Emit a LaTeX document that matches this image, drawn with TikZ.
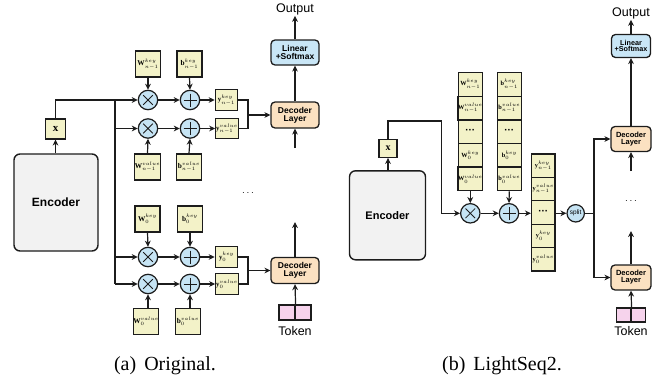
\documentclass[tikz,border=0pt]{standalone}
\usepackage{fontspec}
\setmainfont{Liberation Serif}
\setsansfont{Liberation Sans}
\usetikzlibrary{arrows.meta,calc}

\definecolor{ink}{HTML}{1C1C1C}
\definecolor{boxyel}{HTML}{F3F2C8}
\definecolor{opblue}{HTML}{C6E4F4}
\definecolor{decpeach}{HTML}{FBE1C1}
\definecolor{linblue}{HTML}{C9E6F6}
\definecolor{encgray}{HTML}{F2F2F2}
\definecolor{tokpink}{HTML}{F6D3EC}

\newcommand{\setfs}[1]{\fontsize{#1}{#1}\selectfont}
\newcommand{\stackdots}{{\sffamily\bfseries\setfs{10}\textperiodcentered\textperiodcentered\textperiodcentered}}

\tikzset{
  conn/.style={line width=1.2pt, draw=ink},
  arr/.style={conn, -{Stealth[length=6pt,width=5.8pt]}},
  vbox/.style={draw=ink, line width=1.3pt, fill=boxyel, inner sep=0pt},
  wbox/.style={vbox, minimum width=25pt, minimum height=26pt, font=\setfs{7.3}},
  ybox/.style={vbox, minimum width=22.5pt, minimum height=20.5pt, font=\setfs{6.8}},
  cell/.style={vbox, minimum width=24pt, minimum height=23.6pt, font=\setfs{6.3}},
  enc/.style={draw=ink, line width=1.4pt, fill=encgray, rounded corners=6pt,
    font=\sffamily\bfseries, inner sep=0pt},
  dec/.style={draw=ink, line width=1.3pt, fill=decpeach, rounded corners=4pt,
    align=center, inner sep=0pt, font=\sffamily\bfseries},
  lin/.style={dec, fill=linblue},
  op/.style={circle, draw=ink, line width=1.2pt, fill=opblue,
    minimum size=19.4pt, inner sep=0pt},
  mul/.style={op, path picture={
    \draw[ink, line width=0.8pt]
      ([shift={(-4.8,-4.8)}]path picture bounding box.center) --
      ([shift={(4.8,4.8)}]path picture bounding box.center)
      ([shift={(-4.8,4.8)}]path picture bounding box.center) --
      ([shift={(4.8,-4.8)}]path picture bounding box.center);}},
  add/.style={op, path picture={
    \draw[ink, line width=0.8pt]
      ([shift={(-6.5,0)}]path picture bounding box.center) --
      ([shift={(6.5,0)}]path picture bounding box.center)
      ([shift={(0,-6.5)}]path picture bounding box.center) --
      ([shift={(0,6.5)}]path picture bounding box.center);}},
  tok/.style={draw=ink, line width=1.2pt, fill=tokpink, minimum width=16pt,
    minimum height=15pt, inner sep=0pt},
  lbl/.style={font=\sffamily\setfs{12.5}, inner sep=1pt},
  dotsl/.style={font=\setfs{10}, inner sep=0pt},
  capt/.style={font=\setfs{20}, inner sep=0pt, anchor=base}
}

\begin{document}
\begin{tikzpicture}[x=1pt,y=-1pt]
\useasboundingbox (0,0) rectangle (672,383);

% ---------------- (a) per-layer projections ----------------
\node[enc, minimum width=84pt, minimum height=97pt, font=\sffamily\bfseries\setfs{12}] (encA) at (56,202.5) {Encoder};
\node[vbox, minimum size=20pt, font=\setfs{11}] (xA) at (55.5,129) {$\mathbf{x}$};
\draw[arr] (xA.south |- encA.north) -- (xA.south);

% layer n-1
\node[wbox] (wkA1) at (148,64)    {$\mathbf{W}^{key}_{n-1}$};
\node[wbox] (bkA1) at (189.5,64)  {$\mathbf{b}^{key}_{n-1}$};
\node[mul]  (mA1)  at (148,100) {};
\node[mul]  (mA2)  at (148,128.5) {};
\node[add]  (aA1)  at (190,100) {};
\node[add]  (aA2)  at (190,128.5) {};
\node[ybox] (yA1)  at (226.5,100)   {$\mathbf{y}^{key}_{n-1}$};
\node[ybox] (yA2)  at (227,128.5)   {$\mathbf{y}^{value}_{n-1}$};
\node[wbox] (wvA1) at (147.5,167) {$\mathbf{W}^{value}_{n-1}$};
\node[wbox] (bvA1) at (189,167)   {$\mathbf{b}^{value}_{n-1}$};

% layer 0
\node[wbox] (wkA0) at (147.5,219) {$\mathbf{W}^{key}_{0}$};
\node[wbox] (bkA0) at (190,219)   {$\mathbf{b}^{key}_{0}$};
\node[mul]  (mA3)  at (148,257) {};
\node[mul]  (mA4)  at (148,284) {};
\node[add]  (aA3)  at (190,257) {};
\node[add]  (aA4)  at (190,284) {};
\node[ybox] (yA3)  at (226.5,257) {$\mathbf{y}^{key}_{0}$};
\node[ybox] (yA4)  at (227,284)   {$\mathbf{y}^{value}_{0}$};
\node[wbox] (wvA0) at (146,321.5) {$\mathbf{W}^{value}_{0}$};
\node[wbox] (bvA0) at (188,321.5) {$\mathbf{b}^{value}_{0}$};

% decoder stack
\node[lin, minimum width=48pt, minimum height=25pt, font=\sffamily\bfseries\setfs{8.5}] (linA) at (295,52.5) {Linear\\[-1pt]+Softmax};
\node[lbl] (outA) at (295,9) {Output};
\node[dec, minimum width=48pt, minimum height=26pt, font=\sffamily\bfseries\setfs{8.5}] (decA1) at (295,115) {Decoder\\[-0.5pt]Layer};
\node[dec, minimum width=48pt, minimum height=26pt, font=\sffamily\bfseries\setfs{8.5}] (decA0) at (295,270.5) {Decoder\\[-0.5pt]Layer};
\node[dotsl] (dtA) at (248,193) {$\cdots$};
\node[tok] (tokA1) at (287,312.5) {};
\node[tok] (tokA2) at (303,312.5) {};
\node[lbl] (tokAl) at (295,331.5) {Token};
\coordinate (inA1) at (295,148);
\coordinate (upA0) at (295,222);

% encoder output bus
\coordinate (busA) at (115,100);
\draw[arr] (xA.north) |- (mA1.west);
\draw[conn] (busA) -- (busA |- mA4);
\foreach \m in {mA2,mA3,mA4}
  \draw[arr] (busA |- \m) -- (\m.west);

% products and sums
\foreach \m/\a/\y in {mA1/aA1/yA1, mA2/aA2/yA2, mA3/aA3/yA3, mA4/aA4/yA4} {
  \draw[arr] (\m.east) -- (\a.west);
  \draw[arr] (\a.east) -- (\y.west);
}
\draw[arr] (wkA1.south) -- (mA1.north);
\draw[arr] (bkA1.south) -- (aA1.north);
\draw[arr] (wvA1.north) -- (mA2.south);
\draw[arr] (bvA1.north) -- (aA2.south);
\draw[arr] (wkA0.south) -- (mA3.north);
\draw[arr] (bkA0.south) -- (aA3.north);
\draw[arr] (wvA0.north -| mA4) -- (mA4.south);
\draw[arr] (bvA0.north -| aA4) -- (aA4.south);

% key/value pairs into the decoder layers
\coordinate (jA1) at (248,115);
\coordinate (jA0) at (248,270.5);
\draw[conn] (yA1.east) -| (jA1) |- (yA2.east);
\draw[arr] (jA1) -- (decA1.west);
\draw[conn] (yA3.east) -| (jA0) |- (yA4.east);
\draw[arr] (jA0) -- (decA0.west);

\draw[arr] (inA1) -- (decA1.south);
\draw[arr] (decA1.north) -- (linA.south);
\draw[arr] (linA.north) -- (outA.south);
\draw[arr] (decA0.north) -- (upA0);
\draw[arr] (tokA1.north east) -- (decA0.south);

\node[capt] (capA) at (165,370) {(a)\hspace{0.4em}Original.};

% ---------------- (b) fused projections ----------------
\node[enc, minimum width=76pt, minimum height=89pt, font=\sffamily\bfseries\setfs{11}] (encB) at (387.5,215.3) {Encoder};
\node[vbox, minimum size=18pt, font=\setfs{10}] (xB) at (388,148.3) {$\mathbf{x}$};
\draw[arr] (xB.south |- encB.north) -- (xB.south);

% stacked weights and biases
\node[cell] (wB1) at (470.3,84.5)  {$\mathbf{W}^{key}_{n-1}$};
\node[cell] (wB2) at (470.3,108.1) {$\mathbf{W}^{value}_{n-1}$};
\node[cell] (wB3) at (470.3,131.7) {\stackdots};
\node[cell] (wB4) at (470.3,155.3) {$\mathbf{W}^{key}_{0}$};
\node[cell] (wB5) at (470.3,178.9) {$\mathbf{W}^{value}_{0}$};
\node[cell] (bB1) at (509.3,84.5)  {$\mathbf{b}^{key}_{n-1}$};
\node[cell] (bB2) at (509.3,108.1) {$\mathbf{b}^{value}_{n-1}$};
\node[cell] (bB3) at (509.3,131.7) {\stackdots};
\node[cell] (bB4) at (509.3,155.3) {$\mathbf{b}^{key}_{0}$};
\node[cell] (bB5) at (509.3,178.9) {$\mathbf{b}^{value}_{0}$};

\node[mul] (mB) at (470.3,213.3) {};
\node[add] (aB) at (509,213.3) {};

% stacked outputs
\node[cell, minimum width=23.5pt, minimum height=23.4pt] (yB1) at (543.3,165.7) {$\mathbf{y}^{key}_{n-1}$};
\node[cell, minimum width=23.5pt, minimum height=23.4pt] (yB2) at (543.3,189.1) {$\mathbf{y}^{value}_{n-1}$};
\node[cell, minimum width=23.5pt, minimum height=23.4pt] (yB3) at (543.3,212.5) {\stackdots};
\node[cell, minimum width=23.5pt, minimum height=23.4pt] (yB4) at (543.3,235.9) {$\mathbf{y}^{key}_{0}$};
\node[cell, minimum width=23.5pt, minimum height=23.4pt] (yB5) at (543.3,259.3) {$\mathbf{y}^{value}_{0}$};

\node[op, minimum size=17.4pt, font=\sffamily\setfs{6.5}] (splB) at (575.7,213.3) {split};

% decoder stack
\node[lin, minimum width=39pt, minimum height=23pt, font=\sffamily\bfseries\setfs{7.2}] (linB) at (631,46) {Linear\\[-1pt]+Softmax};
\node[lbl] (outB) at (631,13) {Output};
\node[dec, minimum width=40pt, minimum height=25pt, font=\sffamily\bfseries\setfs{7.5}] (decB1) at (631,139) {Decoder\\[-0.5pt]Layer};
\node[dec, minimum width=40pt, minimum height=25pt, font=\sffamily\bfseries\setfs{7.5}] (decB0) at (631,277.5) {Decoder\\[-0.5pt]Layer};
\node[dotsl] (dtB) at (631,201) {$\cdots$};
\node[tok, minimum width=14.5pt, minimum height=14pt] (tokB1) at (623.75,315) {};
\node[tok, minimum width=14.5pt, minimum height=14pt] (tokB2) at (638.25,315) {};
\node[lbl] (tokBl) at (631,331.5) {Token};
\coordinate (inB1) at (631,171);
\coordinate (upB0) at (631,231);

% connections
\draw[arr] (xB.north) |- (441.7,121) |- (mB.west);
\draw[arr] (wB5.south) -- (mB.north);
\draw[arr] (bB5.south) -- (aB.north);
\draw[arr] (mB.east) -- (aB.west);
\draw[arr] (aB.east) -- (aB.east -| yB3.west);
\draw[arr] (yB3.east |- splB) -- (splB.west);
\coordinate (busB) at (594,213.3);
\draw[conn] (splB.east) -- (busB);
\draw[arr] (busB) |- (decB1.west);
\draw[arr] (busB) |- (decB0.west);

\draw[arr] (inB1) -- (decB1.south);
\draw[arr] (decB1.north) -- (linB.south);
\draw[arr] (linB.north) -- (outB.south);
\draw[arr] (decB0.north) -- (upB0);
\draw[arr] (tokB1.north east) -- (decB0.south);

\node[capt] (capB) at (502,370) {(b)\hspace{0.4em}LightSeq2.};
\end{tikzpicture}
\end{document}
